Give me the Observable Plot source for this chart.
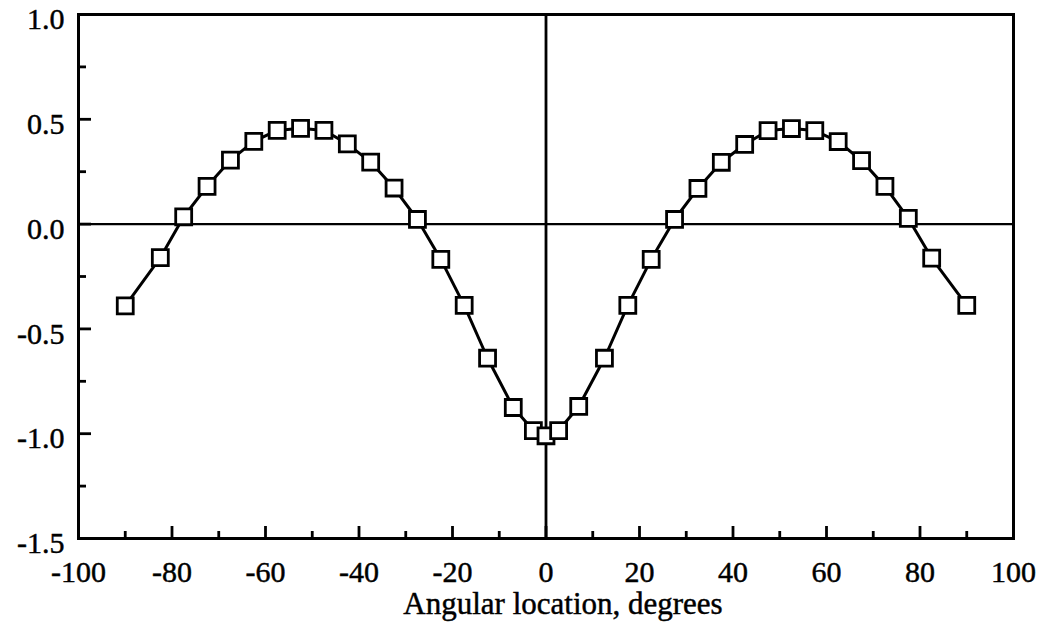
<!DOCTYPE html>
<html>
<head>
<meta charset="utf-8">
<script src="https://cdn.jsdelivr.net/npm/d3@7"></script>
<script src="https://cdn.jsdelivr.net/npm/@observablehq/plot@0.6"></script>
<style>
  html, body { margin: 0; padding: 0; background: #fff; }
  #chart svg { display: block; }
  #chart svg text { stroke: black; stroke-width: 0.45px; }
</style>
</head>
<body>
<div id="chart"></div>
<script>
const angles = [-90, -82.5, -77.5, -72.5, -67.5, -62.5, -57.5, -52.5, -47.5, -42.5, -37.5, -32.5, -27.5, -22.5, -17.5, -12.5, -7, -2.7, 0,
                2.7, 7, 12.5, 17.5, 22.5, 27.5, 32.5, 37.5, 42.5, 47.5, 52.5, 57.5, 62.5, 67.5, 72.5, 77.5, 82.5, 90];
const values = [-0.39, -0.16, 0.035, 0.18, 0.305, 0.395, 0.447, 0.457, 0.447, 0.383, 0.296, 0.172, 0.022, -0.168, -0.388, -0.64, -0.875, -0.985, -1.01,
                -0.985, -0.87, -0.64, -0.388, -0.168, 0.022, 0.17, 0.295, 0.38, 0.446, 0.456, 0.446, 0.394, 0.303, 0.18, 0.027, -0.162, -0.388];
const xMajor = [-100, -80, -60, -40, -20, 0, 20, 40, 60, 80, 100];
const xMinor = [-90, -70, -50, -30, -10, 10, 30, 50, 70, 90];
const yMajor = [-1.5, -1.0, -0.5, 0.0, 0.5, 1.0];
const yMinor = [-1.25, -0.75, -0.25, 0.25, 0.75];
const xTitle = "Angular location, degrees";

const data = angles.map((a, i) => ({angle: a, value: values[i]}));

const chart = Plot.plot({
  width: 1049,
  height: 637,
  marginLeft: 78,
  marginRight: 36,
  marginTop: 14,
  marginBottom: 99,
  style: {fontFamily: "'Liberation Serif', 'Times New Roman', serif", fontSize: "30px", color: "black", background: "white"},
  x: {domain: [-100, 100]},
  y: {domain: [-1.5, 1.0]},
  marks: [
    Plot.ruleY([0], {stroke: "black", strokeWidth: 2.2}),
    Plot.ruleX([0], {stroke: "black", strokeWidth: 2.8}),
    Plot.axisX(xMajor, {tickSize: -12, strokeWidth: 2.8, tickFormat: () => "", label: null}),
    Plot.axisX(xMinor, {tickSize: -7, strokeWidth: 2.8, tickFormat: () => "", label: null}),
    Plot.axisX(xMajor, {tickSize: 0, tickPadding: 22, tickFormat: d => String(d), label: null, fontSize: 30}),
    Plot.axisY(yMajor, {tickSize: -13, strokeWidth: 2.8, tickFormat: () => "", label: null}),
    Plot.axisY(yMinor, {tickSize: -8, strokeWidth: 2.8, tickFormat: () => "", label: null}),
    Plot.axisY(yMajor, {tickSize: 0, tickPadding: 14, dy: 5, tickFormat: d => d.toFixed(1), label: null, fontSize: 30}),
    Plot.frame({stroke: "black", strokeWidth: 3}),
    Plot.line(data, {x: "angle", y: "value", stroke: "black", strokeWidth: 3}),
    Plot.dot(data, {x: "angle", y: "value", symbol: "square", r: 9, fill: "white", stroke: "black", strokeWidth: 2.8}),
    Plot.text([xTitle], {text: d => d, frameAnchor: "bottom", dy: 53, dx: 17, fontSize: 31, fill: "black", lineAnchor: "top"})
  ]
});
document.getElementById("chart").appendChild(chart);
</script>
</body>
</html>
